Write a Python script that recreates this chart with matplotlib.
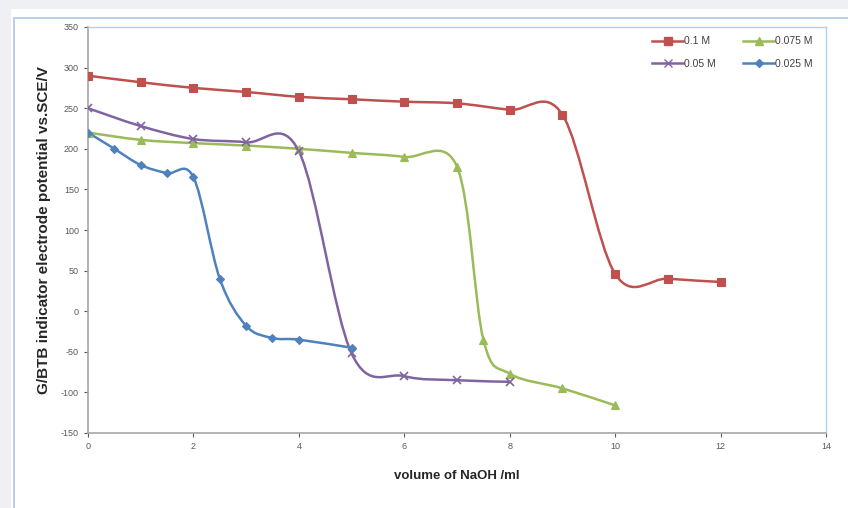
import numpy as np
import matplotlib
matplotlib.use('Agg')
import matplotlib.pyplot as plt
from matplotlib.path import Path
from matplotlib.patches import PathPatch, Rectangle
from matplotlib.lines import Line2D

plt.rcParams['font.family'] = ['Liberation Sans', 'DejaVu Sans']
plt.rcParams['axes.unicode_minus'] = False

# data
x_01 = [0, 1, 2, 3, 4, 5, 6, 7, 8, 9, 10, 11, 12]
y_01 = [290, 282, 275, 270, 264, 261, 258, 256, 248, 242, 46, 40, 36]

x_0075 = [0, 1, 2, 3, 4, 5, 6, 7, 7.5, 8, 9, 10]
y_0075 = [220, 211, 207, 204, 200, 195, 190, 178, -35, -77, -95, -116]

x_005 = [0, 1, 2, 3, 4, 5, 6, 7, 8]
y_005 = [250, 228, 212, 208, 197, -52, -80, -85, -87]

x_0025 = [0, 0.5, 1, 1.5, 2, 2.5, 3, 3.5, 4, 5]
y_0025 = [220, 200, 180, 170, 165, 40, -18, -33, -35, -45]

labels = ['0.1 M', '0.075 M', '0.05 M', '0.025 M']
colors = ['#C0504D', '#9BBB59', '#8064A2', '#4F81BD']
markers = ['s', '^', 'x', 'D']
msizes = [6, 5.5, 6, 4]


def smooth_path(xs, ys):
    # Excel-like smoothed line: cubic bezier through each point
    p = np.column_stack([xs, ys]).astype(float)
    n = len(p)
    verts = [p[0]]
    codes = [Path.MOVETO]
    for i in range(n - 1):
        prev = p[i - 1] if i > 0 else p[i]
        nxt = p[i + 2] if i + 2 < n else p[i + 1]
        c1 = p[i] + (p[i + 1] - prev) / 6.0
        c2 = p[i + 1] - (nxt - p[i]) / 6.0
        verts += [c1, c2, p[i + 1]]
        codes += [Path.CURVE4] * 3
    return Path(verts, codes)


fig = plt.figure(figsize=(8.48, 5.08), dpi=100, facecolor='#eef0f3')
W, H = 848.0, 508.0

# white chart area with thin blue border
fig.patches.append(Rectangle((11 / W, 0), 1, 1 - 9 / H, transform=fig.transFigure,
                             facecolor='white', edgecolor='none', zorder=-2))
fig.lines.append(Line2D([14 / W, 14 / W], [0, 1 - 18 / H], transform=fig.transFigure,
                        color='#b8cce4', lw=1.3, zorder=-1))
fig.lines.append(Line2D([14 / W, 1], [1 - 18 / H, 1 - 18 / H], transform=fig.transFigure,
                        color='#b8cce4', lw=1.3, zorder=-1))

ax = fig.add_axes([88 / W, 1 - 433 / H, (826 - 88) / W, (433 - 27) / H])
ax.set_facecolor('white')

series = [(x_01, y_01), (x_0075, y_0075), (x_005, y_005), (x_0025, y_0025)]
handles = []
for (xs, ys), lab, c, m, ms in zip(series, labels, colors, markers, msizes):
    ax.add_patch(PathPatch(smooth_path(xs, ys), facecolor='none', edgecolor=c, lw=1.8, zorder=3))
    ax.plot(xs, ys, linestyle='none', marker=m, color=c, markersize=ms,
            markeredgewidth=1.2 if m == 'x' else 0.8, zorder=4)
    handles.append(Line2D([], [], color=c, lw=1.8, marker=m, markersize=ms))

ax.set_xlim(0, 14)
ax.set_ylim(-150, 350)
ax.set_xticks(range(0, 15, 2))
ax.set_yticks(range(-150, 351, 50))
ax.tick_params(labelsize=6.5, colors='#595959', length=3, width=0.8)

for s in ['left', 'bottom']:
    ax.spines[s].set_color('#a6a6a6')
    ax.spines[s].set_linewidth(1.2)
for s in ['top', 'right']:
    ax.spines[s].set_color('#b8cce4')
    ax.spines[s].set_linewidth(1.0)

ax.set_xlabel('volume of NaOH /ml', fontsize=9.5, fontweight='bold', labelpad=14,
              color='#262626')
ax.set_ylabel('G/BTB indicator electrode potential vs.SCE/V', fontsize=11,
              fontweight='bold', labelpad=7, color='#262626')

leg_order = [0, 2, 1, 3]
ax.legend([handles[i] for i in leg_order], [labels[i] for i in leg_order], ncol=2,
          loc='upper right', bbox_to_anchor=(0.995, 1.0), frameon=False, fontsize=7.5,
          handlelength=3.0, handletextpad=0.1, columnspacing=2.6, labelspacing=1.2,
          labelcolor='#404040')

fig.savefig('out.png', dpi=100, facecolor=fig.get_facecolor())
